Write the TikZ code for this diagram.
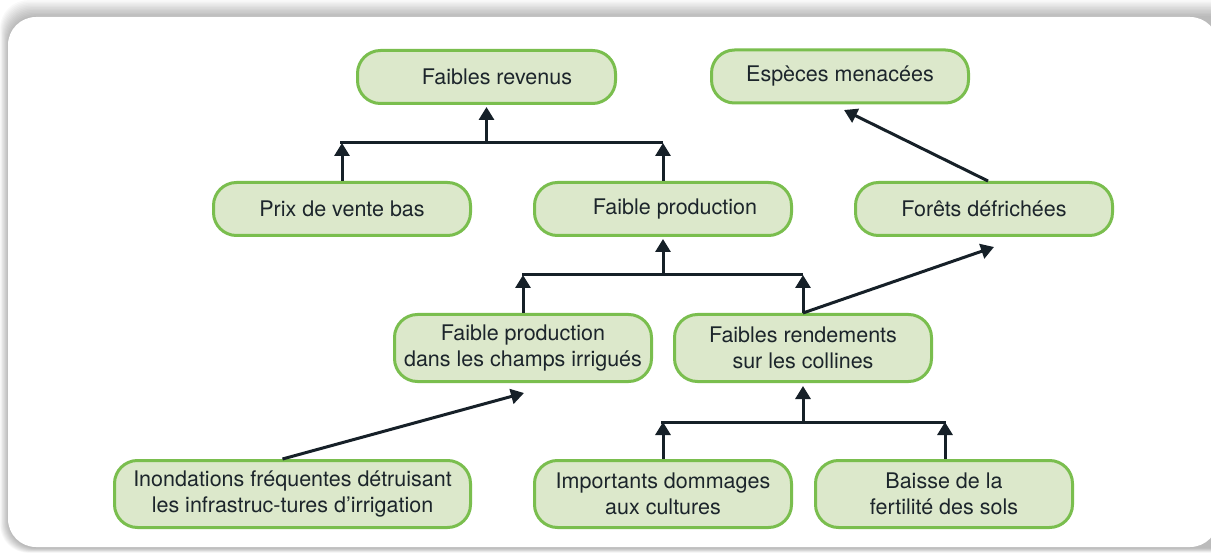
\documentclass[tikz,border=0pt]{standalone}
\usepackage{fontspec}
\setmainfont{TeX Gyre Heros}
\usetikzlibrary{arrows.meta}
\definecolor{boxfill}{RGB}{220,232,203}
\definecolor{boxdraw}{RGB}{122,190,78}
\definecolor{ink}{RGB}{28,37,43}
\definecolor{linecol}{RGB}{22,32,40}
\tikzset{
  box/.style={draw=boxdraw, fill=boxfill, line width=3pt, rounded corners=23pt,
    minimum height=53pt, minimum width=257pt, inner sep=0pt, align=center,
    text=ink, font=\fontsize{21.5}{26}\selectfont},
  tallbox/.style={box, minimum height=67pt},
  conn/.style={draw=linecol, line width=3pt},
  arr/.style={conn, -{Triangle[width=15pt,length=13pt]}},
}
\begin{document}
\begin{tikzpicture}[x=1pt,y=-1pt]
\useasboundingbox (0,0) rectangle (1211,556);
\fill[white] (0,0) rectangle (1211,556);
% shadow of the frame
\foreach \i in {1,...,12}{
  \fill[black, opacity=0.024, rounded corners=28pt]
    ({8.5-\i*0.7},{17-\i*1.4}) rectangle (1240,{548+\i*0.4});
}
\fill[white, rounded corners=28pt] (8,17) rectangle (1218,547);

% nodes
\node[box, minimum width=258pt] (rev) at (486.5,77) {\hspace*{21pt}Faibles revenus};
\node[box] (esp) at (840,76.5) {Espèces menacées};
\node[box] (prix) at (342,209) {Prix de vente bas};
\node[box] (prod) at (663,209) {\hspace*{24pt}Faible production};
\node[box] (for) at (984,209) {Forêts défrichées};
\node[tallbox] (irr) at (523,348) {Faible production\\dans les champs irrigués};
\node[tallbox] (col) at (803,348) {Faibles rendements\\sur les collines};
\node[tallbox, minimum width=356pt] (ino) at (292.5,494) {Inondations fréquentes détruisant\\les infrastruc-tures d’irrigation};
\node[tallbox] (dom) at (663,494) {Importants dommages\\aux cultures};
\node[tallbox] (bai) at (944,494) {Baisse de la\\fertilité des sols};

% bus coordinates
\coordinate (b1L) at (340,143);
\coordinate (b1R) at (663,143);
\coordinate (b1M) at (486.5,143);
\coordinate (b2L) at (522,275);
\coordinate (b2R) at (803,275);
\coordinate (b2M) at (663,275);
\coordinate (b3L) at (661,422);
\coordinate (b3R) at (946,422);
\coordinate (b3M) at (803,422);
\coordinate (tipfor) at (994,247);
\coordinate (tipesp) at (844,110);
\coordinate (tipirr) at (524,393);

% connectors
\draw[conn] (b1L) -- (b1R);
\draw[arr] (prix.north) -- (prix.north |- b1L);
\draw[arr] (prod.north) -- (prod.north |- b1R);
\draw[arr, shorten >=2pt] (b1M) -- (rev.south);

\draw[conn] (b2L) -- (b2R);
\draw[arr] (irr.north) -- (irr.north |- b2L);
\draw[arr] (col.north) -- (col.north |- b2R);
\draw[arr, shorten >=2pt] (b2M) -- (prod.south);

\draw[conn] (b3L) -- (b3R);
\draw[arr] (dom.north) -- (dom.north |- b3L);
\draw[arr] ([xshift=1pt]bai.north) -- ([xshift=1pt]bai.north |- b3R);
\draw[arr, shorten >=3pt] (b3M) -- (col.south);

\draw[arr] (col.north) -- (tipfor);
\draw[arr] ([xshift=4pt]for.north) -- (tipesp);
\draw[arr] ([xshift=-10pt]ino.north) -- (tipirr);
\end{tikzpicture}
\end{document}
